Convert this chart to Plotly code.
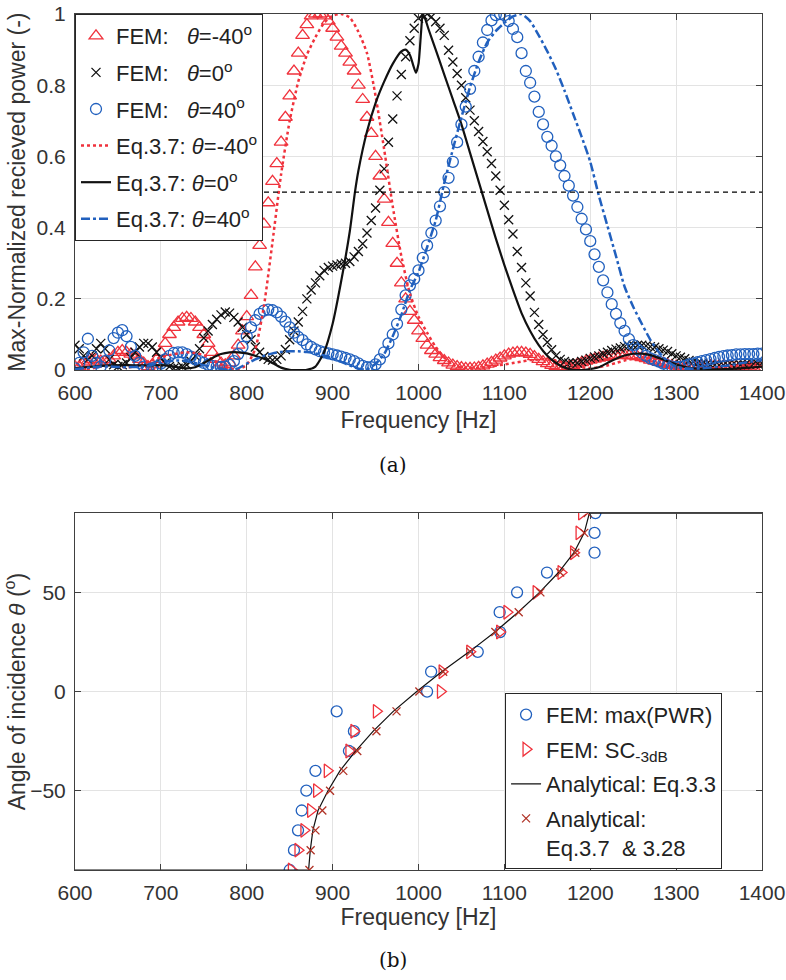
import plotly.graph_objects as go

# ---------------- data: panel (a) ----------------
fem_freq = list(range(600, 1401, 5))
eq_freq = list(range(600, 1401, 10))

fem_m40 = [
    0.01, 0.01, 0.02, 0.025, 0.03, 0.03, 0.025, 0.025, 0.03, 0.04, 0.05, 0.055, 0.05, 0.045, 0.04, 0.03, 0.02, 0.01, 0.015, 0.03,
    0.05, 0.075, 0.1, 0.12, 0.135, 0.145, 0.148, 0.145, 0.135, 0.12, 0.1, 0.075, 0.05, 0.03, 0.02, 0.015, 0.02, 0.04, 0.07, 0.11,
    0.15, 0.21, 0.29, 0.35, 0.41, 0.47, 0.53, 0.58, 0.64, 0.71, 0.77, 0.84, 0.89, 0.94, 0.97, 0.995, 1.0, 1.0, 0.995, 0.98,
    0.96, 0.935, 0.91, 0.89, 0.865, 0.84, 0.80, 0.76, 0.71, 0.665, 0.60, 0.545, 0.48, 0.415, 0.356, 0.30, 0.245, 0.20, 0.165, 0.14,
    0.11, 0.089, 0.07, 0.055, 0.045, 0.035, 0.027, 0.02, 0.014, 0.01, 0.007, 0.005, 0.005, 0.006, 0.008, 0.012, 0.017, 0.022, 0.028, 0.034,
    0.04, 0.045, 0.048, 0.05, 0.05, 0.048, 0.044, 0.038, 0.03, 0.024, 0.018, 0.013, 0.01, 0.008, 0.008, 0.01, 0.013, 0.017, 0.021, 0.025,
    0.028, 0.031, 0.034, 0.036, 0.038, 0.04, 0.041, 0.042, 0.042, 0.041, 0.04, 0.038, 0.035, 0.032, 0.028, 0.025, 0.022, 0.019, 0.016, 0.013,
    0.011, 0.009, 0.008, 0.008, 0.009, 0.01, 0.011, 0.012, 0.013, 0.013, 0.013, 0.012, 0.011, 0.01, 0.01, 0.009, 0.009, 0.008, 0.008, 0.007, 0.006,
]

fem_0 = [
    0.07, 0.06, 0.04, 0.03, 0.04, 0.06, 0.075, 0.06, 0.03, 0.015, 0.01, 0.015, 0.02, 0.035, 0.05, 0.065, 0.075, 0.075, 0.065, 0.05,
    0.035, 0.02, 0.01, 0.005, 0.005, 0.01, 0.015, 0.025, 0.04, 0.06, 0.09, 0.11, 0.128, 0.143, 0.155, 0.163, 0.16, 0.148, 0.135, 0.12,
    0.1, 0.085, 0.065, 0.05, 0.038, 0.03, 0.028, 0.03, 0.04, 0.058, 0.085, 0.11, 0.135, 0.165, 0.2, 0.225, 0.245, 0.265, 0.28, 0.288,
    0.292, 0.295, 0.298, 0.3, 0.305, 0.318, 0.333, 0.355, 0.385, 0.42, 0.455, 0.505, 0.565, 0.64, 0.705, 0.77, 0.83, 0.88, 0.925, 0.96,
    0.988, 0.997, 1.0, 0.992, 0.978, 0.96, 0.94, 0.898, 0.865, 0.833, 0.8, 0.765, 0.73, 0.7, 0.67, 0.642, 0.613, 0.58, 0.545, 0.505,
    0.463, 0.422, 0.382, 0.333, 0.288, 0.245, 0.208, 0.162, 0.128, 0.1, 0.078, 0.057, 0.04, 0.03, 0.024, 0.02, 0.019, 0.02, 0.024, 0.028,
    0.033, 0.037, 0.04, 0.046, 0.05, 0.055, 0.059, 0.062, 0.066, 0.068, 0.07, 0.07, 0.07, 0.068, 0.066, 0.064, 0.06, 0.056, 0.052, 0.046,
    0.04, 0.036, 0.032, 0.027, 0.023, 0.02, 0.018, 0.016, 0.015, 0.014, 0.014, 0.014, 0.014, 0.014, 0.014, 0.015, 0.015, 0.016, 0.017, 0.018, 0.019,
]

fem_40 = [
    0.005, 0.02, 0.05, 0.088, 0.04, 0.02, 0.01, 0.025, 0.055, 0.09, 0.105, 0.112, 0.095, 0.065, 0.04, 0.02, 0.01, 0.005, 0.005, 0.01,
    0.018, 0.03, 0.04, 0.048, 0.05, 0.05, 0.045, 0.038, 0.03, 0.025, 0.02, 0.015, 0.012, 0.01, 0.009, 0.01, 0.015, 0.025, 0.045, 0.065,
    0.095, 0.12, 0.14, 0.158, 0.167, 0.17, 0.168, 0.162, 0.15, 0.136, 0.12, 0.105, 0.093, 0.084, 0.072, 0.065, 0.058, 0.053, 0.05, 0.047,
    0.044, 0.041, 0.038, 0.034, 0.03, 0.025, 0.019, 0.012, 0.008, 0.008, 0.016, 0.03, 0.05, 0.075, 0.1, 0.13, 0.17, 0.21, 0.238, 0.256,
    0.28, 0.315, 0.35, 0.385, 0.42, 0.46, 0.5, 0.54, 0.585, 0.64, 0.69, 0.74, 0.79, 0.84, 0.88, 0.92, 0.955, 0.982, 0.997, 1.0,
    0.997, 0.98, 0.958, 0.935, 0.89, 0.84, 0.807, 0.768, 0.725, 0.69, 0.655, 0.63, 0.6, 0.575, 0.545, 0.518, 0.49, 0.458, 0.425, 0.395,
    0.362, 0.325, 0.29, 0.252, 0.218, 0.185, 0.158, 0.132, 0.11, 0.087, 0.07, 0.058, 0.049, 0.04, 0.033, 0.028, 0.024, 0.018, 0.013, 0.01,
    0.009, 0.009, 0.012, 0.016, 0.019, 0.022, 0.025, 0.028, 0.031, 0.034, 0.037, 0.039, 0.041, 0.042, 0.044, 0.044, 0.045, 0.045, 0.045, 0.046, 0.046,
]

eq_m40 = [
    0.005, 0.003, 0.005, 0.01, 0.012, 0.01, 0.008, 0.01, 0.018, 0.028,
    0.035, 0.042, 0.047, 0.05, 0.048, 0.042, 0.03, 0.016, 0.004, 0.002,
    0.015, 0.06, 0.18, 0.36, 0.55, 0.70, 0.81, 0.885, 0.935, 0.975,
    0.995, 1.0, 0.99, 0.95, 0.89, 0.77, 0.62, 0.46, 0.32, 0.215,
    0.15, 0.105, 0.065, 0.035, 0.015, 0.007, 0.005, 0.006, 0.009, 0.012,
    0.016, 0.02, 0.024, 0.028, 0.03, 0.03, 0.027, 0.02, 0.013, 0.008,
    0.006, 0.008, 0.013, 0.02, 0.027, 0.032, 0.035, 0.034, 0.03, 0.024,
    0.016, 0.01, 0.005, 0.003, 0.004, 0.007, 0.01, 0.012, 0.013, 0.012, 0.01,
]

eq_0_freq = [600, 620, 640, 660, 680, 700, 710, 720, 730, 740, 750, 760, 770, 780, 790, 800, 810, 820, 830, 840,
             850, 860, 870, 880, 890, 900, 910, 920, 926, 930, 940, 950, 960, 970, 980, 985, 990, 994, 997, 1000,
             1003, 1005, 1008, 1012, 1020, 1030, 1040, 1050, 1060, 1070, 1080, 1090, 1100, 1110, 1120, 1130, 1140, 1150, 1160, 1170,
             1180, 1190, 1200, 1210, 1220, 1230, 1240, 1250, 1260, 1270, 1280, 1290, 1300, 1310, 1320, 1330, 1340, 1350, 1360, 1370,
             1380, 1390, 1400]
eq_0 = [0.005, 0.01, 0.013, 0.014, 0.013, 0.014, 0.012, 0.008, 0.005, 0.008, 0.02, 0.034, 0.045, 0.05, 0.05, 0.047, 0.04, 0.032, 0.02, 0.007,
        0.001, 0.0, 0.001, 0.01, 0.05, 0.13, 0.25, 0.39, 0.5, 0.56, 0.67, 0.75, 0.81, 0.86, 0.895, 0.9, 0.885, 0.855, 0.835, 0.86,
        0.95, 1.0, 0.985, 0.955, 0.9, 0.83, 0.76, 0.69, 0.61, 0.53, 0.45, 0.37, 0.295, 0.225, 0.16, 0.11, 0.07, 0.04, 0.02, 0.007,
        0.001, 0.0, 0.003, 0.008, 0.02, 0.032, 0.041, 0.046, 0.046, 0.042, 0.034, 0.025, 0.016, 0.009, 0.005, 0.003, 0.002, 0.002, 0.003, 0.004,
        0.006, 0.008, 0.01]

eq_40 = [
    0.003, 0.005, 0.008, 0.01, 0.01, 0.009, 0.008, 0.009, 0.01, 0.015,
    0.02, 0.025, 0.027, 0.025, 0.02, 0.014, 0.008, 0.003, 0.001, 0.005,
    0.018, 0.03, 0.04, 0.047, 0.051, 0.053, 0.053, 0.051, 0.047, 0.041,
    0.033, 0.023, 0.013, 0.004, 0.002, 0.018, 0.045, 0.095, 0.155, 0.225,
    0.275, 0.345, 0.42, 0.525, 0.62, 0.71, 0.795, 0.865, 0.92, 0.952,
    0.975, 0.993, 1.0, 0.98, 0.94, 0.895, 0.845, 0.785, 0.72, 0.655,
    0.585, 0.49, 0.405, 0.32, 0.234, 0.178, 0.13, 0.085, 0.05, 0.025,
    0.01, 0.005, 0.004, 0.005, 0.007, 0.01, 0.013, 0.017, 0.021, 0.025, 0.028,
]

half_power = 0.5

# ---------------- data: panel (b) ----------------
angles = list(range(-90, 91, 10))
fem_max_freq = [850, 855, 859.7, 864, 869.4, 880, 919, 924.8, 904.7, 1010, 1014.7, 1069, 1095, 1094.5, 1114.8,
                1149.6, 1205, 1205, 1206]
fem_sc_freq = [852, 859.7, 866.6, 874.4, 881.4, 893.8, 919, 924.8, 951, 1025.6, 1027.5, 1059.7, 1094.5, 1103, 1137,
               1166, 1180.6, 1187, 1190]
an_x_freq = [873, 874.4, 880, 888, 897, 912.4, 928.7, 951, 974.4, 1001, 1028.7, 1060.5, 1089.5, 1116.7, 1141.9,
             1165, 1182.6, 1193, 1197]
an33_freq = [600, 872, 874, 877, 883, 894.6, 908.5, 926.7, 947.3, 970.6, 998, 1027, 1059, 1089, 1116, 1141, 1163,
             1181, 1193, 1199, 1400]
an33_angle = [-90, -90, -80, -70, -60, -50, -40, -30, -20, -10, 0, 10, 20, 30, 40, 50, 60, 70, 80, 90, 90]

freq_ticks = list(range(600, 1401, 100))
pwr_ticks = [0, 0.2, 0.4, 0.6, 0.8, 1]
pwr_ticktext = ["0", "0.2", "0.4", "0.6", "0.8", "1"]
ang_ticks = [-50, 0, 50]

# ---------------- styling ----------------
RED = "#F0323C"
BLUE = "#2160BE"
DKRED = "#B03226"
BLACK = "#111111"
AXC = "#404040"
GRID = "#E3E3E3"
TXT = "#333333"
SANS = "Liberation Sans, Arial, sans-serif"
SERIF = "DejaVu Serif, Liberation Serif, serif"
TH = "<i>θ</i>"
NB = "\u00a0"

fig = go.Figure()

def leg(i):
    return dict(legendgroup=f"g{i}")

fig.add_trace(go.Scatter(x=fem_freq, y=fem_m40, mode="markers", name=f"FEM:{NB*3}{TH}=-40<sup>o</sup>",
                         marker=dict(symbol="triangle-up-open", size=12, color=RED, line=dict(width=1.3, color=RED)),
                         xaxis="x", yaxis="y", **leg(1)))
fig.add_trace(go.Scatter(x=fem_freq, y=fem_0, mode="markers", name=f"FEM:{NB*3}{TH}=0<sup>o</sup>",
                         marker=dict(symbol="x-thin-open", size=9, color=BLACK, line=dict(width=1.3, color=BLACK)),
                         xaxis="x", yaxis="y", **leg(2)))
fig.add_trace(go.Scatter(x=fem_freq, y=fem_40, mode="markers", name=f"FEM:{NB*3}{TH}=40<sup>o</sup>",
                         marker=dict(symbol="circle-open", size=11, color=BLUE, line=dict(width=1.3, color=BLUE)),
                         xaxis="x", yaxis="y", **leg(3)))
fig.add_trace(go.Scatter(x=eq_freq, y=eq_m40, mode="lines", name=f"Eq.3.7: {TH}=-40<sup>o</sup>",
                         line=dict(color=RED, width=2.5, dash="dot", shape="spline", smoothing=0.6),
                         xaxis="x", yaxis="y", **leg(4)))
fig.add_trace(go.Scatter(x=eq_0_freq, y=eq_0, mode="lines", name=f"Eq.3.7: {TH}=0<sup>o</sup>",
                         line=dict(color=BLACK, width=2.2, shape="spline", smoothing=0.6),
                         xaxis="x", yaxis="y", **leg(5)))
fig.add_trace(go.Scatter(x=eq_freq, y=eq_40, mode="lines", name=f"Eq.3.7: {TH}=40<sup>o</sup>",
                         line=dict(color=BLUE, width=2.5, dash="dashdot", shape="spline", smoothing=0.6),
                         xaxis="x", yaxis="y", **leg(6)))
fig.add_trace(go.Scatter(x=[freq_ticks[0], freq_ticks[-1]], y=[half_power, half_power], mode="lines",
                         line=dict(color="#000000", width=1.2, dash="5px,4px"), showlegend=False, hoverinfo="skip",
                         xaxis="x", yaxis="y"))

# panel (b)
fig.add_trace(go.Scatter(x=fem_max_freq, y=angles, mode="markers", name="FEM: max(PWR)",
                         marker=dict(symbol="circle-open", size=11, color=BLUE, line=dict(width=1.3, color=BLUE)),
                         xaxis="x2", yaxis="y2", legend="legend2", legendgroup="h1"))
fig.add_trace(go.Scatter(x=fem_sc_freq, y=angles, mode="markers", name="FEM: SC<sub>-3dB</sub>",
                         marker=dict(symbol="triangle-right-open", size=12, color=RED, line=dict(width=1.3, color=RED)),
                         xaxis="x2", yaxis="y2", legend="legend2", legendgroup="h2"))
fig.add_trace(go.Scatter(x=an33_freq, y=an33_angle, mode="lines", name="Analytical: Eq.3.3",
                         line=dict(color=BLACK, width=1.2),
                         xaxis="x2", yaxis="y2", legend="legend2", legendgroup="h3"))
fig.add_trace(go.Scatter(x=an_x_freq, y=angles, mode="markers", name=f"Analytical:<br>Eq.3.7{NB}{NB}& 3.28",
                         marker=dict(symbol="x-thin-open", size=8, color=DKRED, line=dict(width=1.3, color=DKRED)),
                         xaxis="x2", yaxis="y2", legend="legend2", legendgroup="h4"))

axis_common = dict(showline=True, linecolor=AXC, linewidth=1, mirror="ticks", ticks="inside", ticklen=6,
                   tickcolor=AXC, showgrid=True, gridcolor=GRID, gridwidth=1, zeroline=False,
                   tickfont=dict(family=SANS, size=21, color=TXT), automargin=False, ticklabelstandoff=4)

fig.update_layout(
    width=786, height=980,
    margin=dict(l=75, r=24, t=14, b=110),
    paper_bgcolor="white", plot_bgcolor="white",
    xaxis=dict(domain=[0, 1], anchor="y", range=[600, 1400], tickvals=freq_ticks,
               title=dict(text="Frequency [Hz]", font=dict(family=SANS, size=23, color=TXT), standoff=8),
               **axis_common),
    yaxis=dict(domain=[0.584, 1], anchor="x", range=[0, 1], tickvals=pwr_ticks, ticktext=pwr_ticktext,
               title=dict(text="Max-Normalized recieved power (-)", font=dict(family=SANS, size=23, color=TXT),
                          standoff=4),
               **axis_common),
    xaxis2=dict(domain=[0, 1], anchor="y2", range=[600, 1400], tickvals=freq_ticks,
                title=dict(text="Frequency [Hz]", font=dict(family=SANS, size=23, color=TXT), standoff=3),
                **axis_common),
    yaxis2=dict(domain=[0, 0.417], anchor="x2", range=[-90, 90], tickvals=ang_ticks,
                title=dict(text=f"Angle of incidence {TH} (<sup>o</sup>)", font=dict(family=SANS, size=23, color=TXT),
                           standoff=4),
                **axis_common),
    legend=dict(x=0, y=1, xanchor="left", yanchor="top", bgcolor="white", bordercolor="#262626", borderwidth=1,
                font=dict(family=SANS, size=22, color="#222222"), itemwidth=30, tracegroupgap=5,
                traceorder="grouped", valign="top"),
    legend2=dict(x=0.626, y=0.207, xanchor="left", yanchor="top", bgcolor="white", bordercolor="#262626",
                 borderwidth=1, font=dict(family=SANS, size=22, color="#222222"), itemwidth=30, tracegroupgap=3,
                 traceorder="grouped", valign="top"),
    showlegend=True,
    annotations=[
        dict(text="(a)", x=0.463, y=0.473, xref="paper", yref="paper", showarrow=False,
             xanchor="center", yanchor="middle", font=dict(family=SERIF, size=20, color="#111111")),
        dict(text="(b)", x=0.463, y=-0.105, xref="paper", yref="paper", showarrow=False,
             xanchor="center", yanchor="middle", font=dict(family=SERIF, size=20, color="#111111")),
    ],
)

fig.write_html("out.html")
